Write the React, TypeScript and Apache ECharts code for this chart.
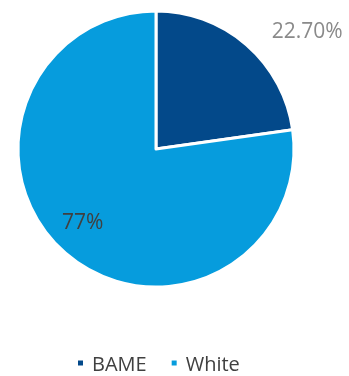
import React, { useEffect, useRef } from "react";
import * as echarts from "echarts";

const categories = ["BAME", "White"];
const values = [22.7, 77];
const valueLabels = ["22.70%", "77%"];
const colors = ["#03498A", "#069CDD"];

export default function App() {
  const ref = useRef<HTMLDivElement>(null);
  useEffect(() => {
    if (!ref.current) return;
    const chart = echarts.init(ref.current, null, { renderer: "svg" });
    chart.setOption({
      animation: false,
      color: colors,
      legend: {
        top: 353,
        left: 76,
        padding: 0,
        icon: "rect",
        itemWidth: 7,
        itemHeight: 7,
        itemGap: 23,
        textStyle: {
          fontFamily: "Open Sans",
          fontSize: 20,
          lineHeight: 19,
          color: "#404040",
          padding: [0, 0, 0, 3],
        },
        data: categories,
      },
      series: [
        {
          type: "pie",
          center: [156, 149],
          radius: [0, 138],
          startAngle: 90,
          clockwise: true,
          itemStyle: { borderColor: "#ffffff", borderWidth: 3 },
          label: {
            show: true,
            position: "inside",
            fontFamily: "Open Sans",
            fontSize: 21,
            formatter: (p: any) => valueLabels[p.dataIndex],
          },
          labelLine: { show: false },
          labelLayout: (p: any) =>
            p.dataIndex === 0 ? { dx: 104, dy: -65 } : { dx: -26, dy: 18 },
          data: categories.map((c, i) => ({
            name: c,
            value: values[i],
            label: { color: i === 0 ? "#8A8A8A" : "#404040" },
          })),
        },
      ],
    });
    return () => chart.dispose();
  }, []);
  return (
    <div
      ref={ref}
      style={{ position: "fixed", left: 0, top: 0, width: 349, height: 376 }}
    />
  );
}
